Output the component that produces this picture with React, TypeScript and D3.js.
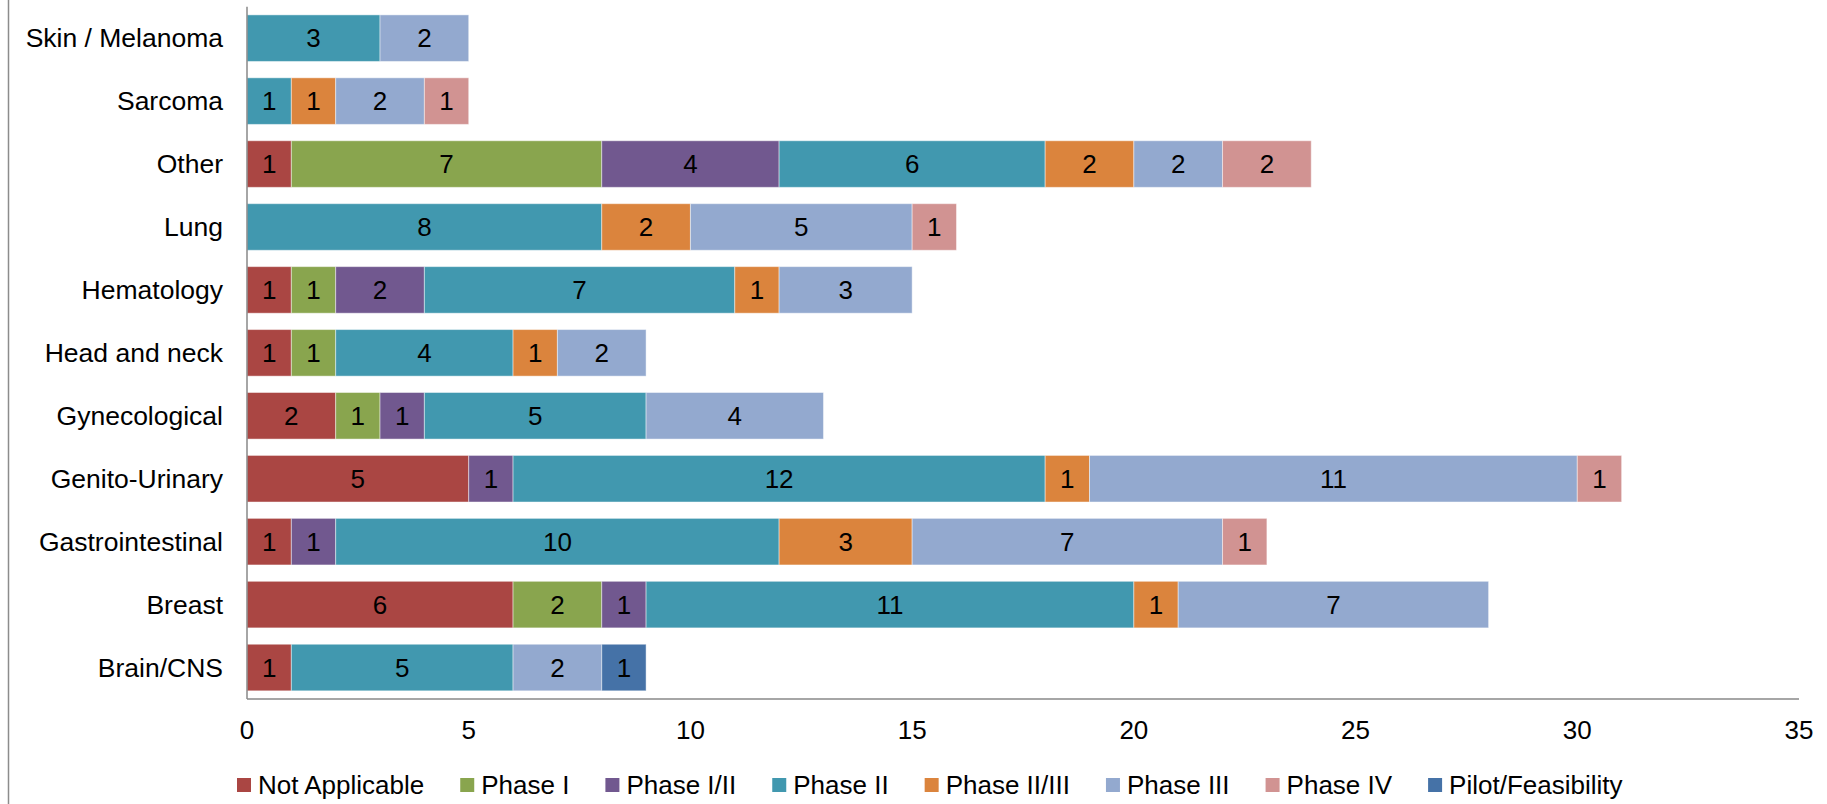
import React, { useEffect, useRef } from "react";
import * as d3 from "d3";

// Categories listed top-to-bottom
const categories = [
  "Skin / Melanoma",
  "Sarcoma",
  "Other",
  "Lung",
  "Hematology",
  "Head and neck",
  "Gynecological",
  "Genito-Urinary",
  "Gastrointestinal",
  "Breast",
  "Brain/CNS",
];

const phases = [
  "Not Applicable",
  "Phase I",
  "Phase I/II",
  "Phase II",
  "Phase II/III",
  "Phase III",
  "Phase IV",
  "Pilot/Feasibility",
];

const phaseColors = [
  "#AA4643",
  "#89A54E",
  "#71588F",
  "#4198AF",
  "#DB843D",
  "#93A9CF",
  "#D19392",
  "#4572A7",
];

// Trial counts per phase, aligned with `categories`
const notApplicable = [0, 0, 1, 0, 1, 1, 2, 5, 1, 6, 1];
const phaseI = [0, 0, 7, 0, 1, 1, 1, 0, 0, 2, 0];
const phaseI_II = [0, 0, 4, 0, 2, 0, 1, 1, 1, 1, 0];
const phaseII = [3, 1, 6, 8, 7, 4, 5, 12, 10, 11, 5];
const phaseII_III = [0, 1, 2, 2, 1, 1, 0, 1, 3, 1, 0];
const phaseIII = [2, 2, 2, 5, 3, 2, 4, 11, 7, 7, 2];
const phaseIV = [0, 1, 2, 1, 0, 0, 0, 1, 1, 0, 0];
const pilotFeasibility = [0, 0, 0, 0, 0, 0, 0, 0, 0, 0, 1];

const seriesValues = [
  notApplicable,
  phaseI,
  phaseI_II,
  phaseII,
  phaseII_III,
  phaseIII,
  phaseIV,
  pilotFeasibility,
];

const xTicks = [0, 5, 10, 15, 20, 25, 30, 35];

const WIDTH = 1827;
const HEIGHT = 804;
const FONT = "'Liberation Sans', Arial, sans-serif";

export default function App() {
  const ref = useRef<SVGSVGElement | null>(null);

  useEffect(() => {
    const svg = d3.select(ref.current);
    svg.selectAll("*").remove();

    const left = 247;
    const right = 1799;
    const top = 6.7;
    const bottom = 699;

    const x = d3.scaleLinear().domain([0, 35]).range([left, right]);
    const y = d3
      .scaleBand<string>()
      .domain(categories)
      .range([top, bottom])
      .paddingInner(0.26)
      .paddingOuter(0.13);

    // outer chart border (left edge)
    svg
      .append("line")
      .attr("x1", 8.5)
      .attr("x2", 8.5)
      .attr("y1", 0)
      .attr("y2", HEIGHT)
      .attr("stroke", "#8c8c8c")
      .attr("stroke-width", 1.5);

    const rows = categories.map((c, i) => {
      const vals = seriesValues.map((s) => s[i]);
      return { category: c, vals };
    });

    const gBars = svg.append("g");
    rows.forEach((row) => {
      let acc = 0;
      row.vals.forEach((v, k) => {
        if (!v) return;
        const x0 = x(acc);
        const x1 = x(acc + v);
        acc += v;
        const yy = y(row.category)!;
        gBars
          .append("rect")
          .attr("x", x0)
          .attr("y", yy)
          .attr("width", x1 - x0)
          .attr("height", y.bandwidth())
          .attr("fill", phaseColors[k])
          .attr("stroke", "#ffffff")
          .attr("stroke-opacity", 0.45)
          .attr("stroke-width", 1);
        gBars
          .append("text")
          .attr("x", (x0 + x1) / 2)
          .attr("y", yy + y.bandwidth() / 2)
          .attr("dy", "0.35em")
          .attr("text-anchor", "middle")
          .attr("font-family", FONT)
          .attr("font-size", 26)
          .attr("fill", "#000")
          .text(String(v));
      });
    });

    // axes lines
    svg
      .append("line")
      .attr("x1", left)
      .attr("x2", left)
      .attr("y1", top)
      .attr("y2", bottom)
      .attr("stroke", "#898989")
      .attr("stroke-width", 1.5);
    svg
      .append("line")
      .attr("x1", left)
      .attr("x2", right)
      .attr("y1", bottom)
      .attr("y2", bottom)
      .attr("stroke", "#898989")
      .attr("stroke-width", 1.5);

    // category labels
    svg
      .append("g")
      .selectAll("text")
      .data(categories)
      .join("text")
      .attr("x", 223)
      .attr("y", (d) => y(d)! + y.bandwidth() / 2)
      .attr("dy", "0.35em")
      .attr("text-anchor", "end")
      .attr("font-family", FONT)
      .attr("font-size", 26.5)
      .attr("fill", "#000")
      .text((d) => d);

    // x tick labels
    svg
      .append("g")
      .selectAll("text")
      .data(xTicks)
      .join("text")
      .attr("x", (d) => x(d))
      .attr("y", 730)
      .attr("dy", "0.35em")
      .attr("text-anchor", "middle")
      .attr("font-family", FONT)
      .attr("font-size", 26)
      .attr("fill", "#000")
      .text((d) => String(d));

    // legend
    const legend = svg.append("g");
    let lx = 237;
    const ly = 785;
    phases.forEach((p, k) => {
      legend
        .append("rect")
        .attr("x", lx)
        .attr("y", ly - 7)
        .attr("width", 14)
        .attr("height", 14)
        .attr("fill", phaseColors[k]);
      const t = legend
        .append("text")
        .attr("x", lx + 21)
        .attr("y", ly)
        .attr("dy", "0.35em")
        .attr("font-family", FONT)
        .attr("font-size", 26)
        .attr("fill", "#000")
        .text(p);
      const w = (t.node() as SVGTextElement).getComputedTextLength();
      lx = lx + 21 + w + 36;
    });
  }, []);

  return (
    <svg
      ref={ref}
      width={WIDTH}
      height={HEIGHT}
      style={{ position: "absolute", left: 0, top: 0, background: "#fff" }}
    />
  );
}
